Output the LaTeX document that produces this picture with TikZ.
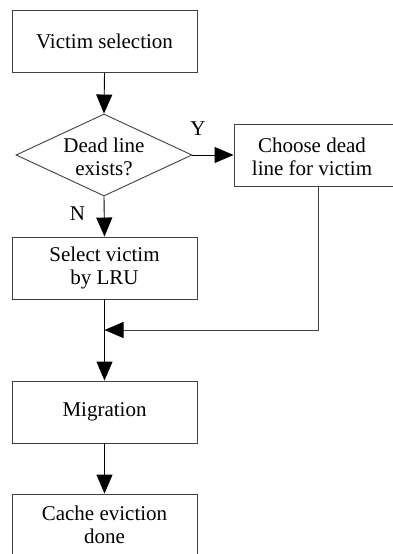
\documentclass[tikz,border=0pt]{standalone}
\usepackage{fontspec}
\setmainfont{Liberation Serif}
\usetikzlibrary{shapes.geometric,arrows.meta}
\begin{document}
\begin{tikzpicture}[x=1pt,y=-1pt,
  every node/.style={font=\fontsize{21}{23.5}\selectfont},
  box/.style={draw=black!75,line width=0.9pt,minimum width=185pt,minimum height=62pt,inner sep=0pt,align=center},
  dia/.style={draw=black!75,line width=0.9pt,diamond,minimum width=176pt,minimum height=82pt,inner sep=0pt},
  arr/.style={draw=black,line width=0.9pt,-{Triangle[length=19pt,width=16pt]}},
  ret/.style={draw=black!75,line width=0.9pt},
  lbl/.style={inner sep=0pt}]
\useasboundingbox (0,0) rectangle (393,554);
\clip (0,0) rectangle (393,554);
\node[box] (b1) at (104.5,41.5) {Victim selection};
\node[dia] (d) at (104,155) {};
\node[lbl,align=center] (dt) at (104,157) {Dead line\\exists?};
\node[box,minimum width=168pt] (b2) at (318,155) {};
\node[lbl,align=center] (b2t) at (312,157) {Choose dead\\line for victim};
\node[box] (b3) at (104.5,268) {Select victim\\by LRU};
\node[box] (b4) at (104.5,412) {Migration};
\node[box] (b5) at (104.5,525) {Cache eviction\\done};
\node[lbl] (y) at (198,129) {Y};
\node[lbl] (n) at (77.5,213.5) {N};
\coordinate (m) at (104.5,330);
\draw[arr] (b1.south) -- (d.north);
\draw[arr] (d.east) -- (b2.west);
\draw[arr] (d.south) -- (b3.north);
\draw[arr] (b3.south) -- (b4.north);
\draw[arr] (b4.south) -- (b5.north);
\draw[ret] (b2.south) -- (b2.south |- m) -- ([xshift=17pt]m);
\draw[arr] ([xshift=18pt]m) -- (m);
\end{tikzpicture}
\end{document}
